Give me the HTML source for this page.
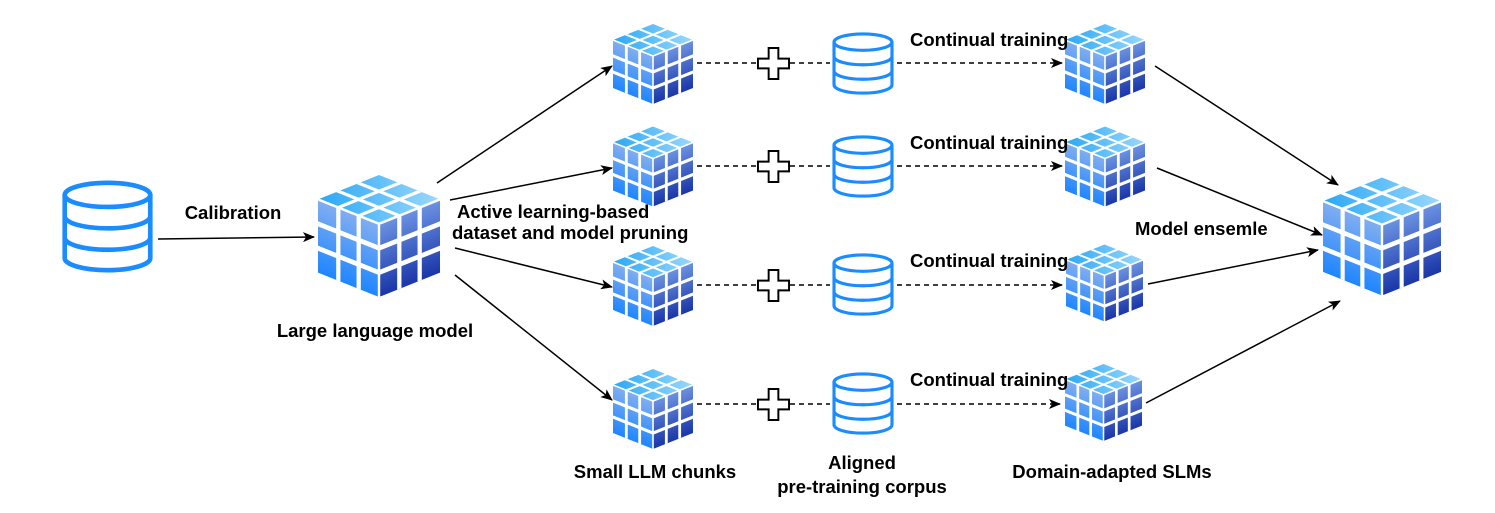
<!DOCTYPE html>
<html><head><meta charset="utf-8"><style>
html,body{margin:0;padding:0;background:#fff;}
svg{display:block;}
text{font-family:"Liberation Sans",Arial,sans-serif;font-weight:bold;font-size:18.5px;fill:#000;}
</style></head><body>
<svg width="1495" height="513" viewBox="0 0 1495 513" xmlns="http://www.w3.org/2000/svg">
<defs>
<linearGradient id="gl" x1="0" y1="0" x2="0" y2="1"><stop offset="0" stop-color="#82aef0"/><stop offset="1" stop-color="#1f86ff"/></linearGradient>
<linearGradient id="gr" x1="0" y1="0" x2="0" y2="1"><stop offset="0" stop-color="#6b92e2"/><stop offset="1" stop-color="#1a36a8"/></linearGradient>
<linearGradient id="gt" x1="0" y1="0" x2="1" y2="1"><stop offset="0" stop-color="#2aa8f6"/><stop offset="1" stop-color="#9ad8fc"/></linearGradient>
<g id="grid" fill="none" stroke="#fff" stroke-width="0.07">
  <line x1="0.333" y1="0" x2="0.333" y2="1"/><line x1="0.667" y1="0" x2="0.667" y2="1"/>
  <line x1="0" y1="0.333" x2="1" y2="0.333"/><line x1="0" y1="0.667" x2="1" y2="0.667"/>
</g>
<symbol id="cube" viewBox="0 0 100 100">
  <g transform="matrix(50,20,0,60,0,20)"><rect width="1" height="1" fill="url(#gl)"/><use href="#grid"/></g>
  <g transform="matrix(50,-20,0,60,50,40)"><rect width="1" height="1" fill="url(#gr)"/><use href="#grid"/></g>
  <g transform="matrix(50,-20,50,20,0,20)"><rect width="1" height="1" fill="url(#gt)"/><use href="#grid"/></g>
  <g fill="none" stroke="#fff" stroke-width="2">
    <path d="M0,20 L50,40 L100,20 M50,40 L50,100"/>
  </g>
</symbol>
<symbol id="db" viewBox="0 0 100 100">
  <g fill="#fff" stroke="#1a8cff" stroke-width="5">
    <path d="M4,16 L4,84 A46,13 0 0 0 96,84 L96,16"/>
    <ellipse cx="50" cy="16" rx="46" ry="13"/>
    <path d="M4,39 A46,13 0 0 0 96,39" fill="none"/>
    <path d="M4,62 A46,13 0 0 0 96,62" fill="none"/>
  </g>
</symbol>
<symbol id="plus" viewBox="0 0 34 34">
  <path d="M12,1 H22 V12 H33 V22 H22 V33 H12 V22 H1 V12 H12 Z" fill="#fff" stroke="#000" stroke-width="2"/>
</symbol>
<marker id="ah" markerWidth="12" markerHeight="10" refX="11" refY="5" orient="auto" markerUnits="userSpaceOnUse">
  <path d="M0,0 L12,5 L0,10 L3,5 Z" fill="#000"/>
</marker>
</defs>

<use href="#db" x="58" y="180" width="99" height="93" preserveAspectRatio="none"/>
<use href="#cube" x="318" y="175" width="122" height="122" preserveAspectRatio="none"/>
<line x1="158" y1="239" x2="314" y2="237" stroke="#000" stroke-width="1.5" marker-end="url(#ah)"/>
<text x="233" y="219" text-anchor="middle">Calibration</text>
<text x="375" y="337" text-anchor="middle">Large language model</text>

<g stroke="#000" stroke-width="1.5" marker-end="url(#ah)">
<line x1="437" y1="183" x2="612" y2="66"/>
<line x1="450" y1="200" x2="612" y2="168"/>
<line x1="455" y1="248" x2="612" y2="287"/>
<line x1="455" y1="275" x2="612" y2="400"/>
</g>
<text x="457" y="218">Active learning-based</text>
<text x="452" y="239">dataset and model pruning</text>

<g>
<use href="#cube" x="613" y="22" width="80" height="84" preserveAspectRatio="none"/>
<use href="#cube" x="613" y="125" width="80" height="83" preserveAspectRatio="none"/>
<use href="#cube" x="613" y="246" width="80" height="80" preserveAspectRatio="none"/>
<use href="#cube" x="613" y="368" width="80" height="82" preserveAspectRatio="none"/>

<use href="#cube" x="1065" y="22" width="80" height="84" preserveAspectRatio="none"/>
<use href="#cube" x="1065" y="125" width="80" height="83" preserveAspectRatio="none"/>
<use href="#cube" x="1066" y="242" width="77" height="82" preserveAspectRatio="none"/>
<use href="#cube" x="1065" y="362" width="77" height="81" preserveAspectRatio="none"/>
</g>

<g stroke="#000" stroke-width="1.5" stroke-dasharray="5,4">
<line x1="697" y1="63" x2="757" y2="63"/><line x1="790" y1="63" x2="830" y2="63"/><line x1="897" y1="63" x2="1062" y2="63" marker-end="url(#ah)"/>
<line x1="697" y1="166" x2="757" y2="166"/><line x1="790" y1="166" x2="830" y2="166"/><line x1="897" y1="166" x2="1062" y2="166" marker-end="url(#ah)"/>
<line x1="697" y1="285" x2="757" y2="285"/><line x1="790" y1="285" x2="830" y2="285"/><line x1="897" y1="285" x2="1062" y2="285" marker-end="url(#ah)"/>
<line x1="697" y1="404" x2="757" y2="404"/><line x1="790" y1="404" x2="830" y2="404"/><line x1="897" y1="404" x2="1060" y2="404" marker-end="url(#ah)"/>
</g>

<use href="#plus" x="757" y="47" width="33" height="33"/>
<use href="#plus" x="757" y="150" width="33" height="33"/>
<use href="#plus" x="757" y="269" width="33" height="33"/>
<use href="#plus" x="757" y="388" width="33" height="33"/>

<use href="#db" x="830" y="32" width="66" height="63" preserveAspectRatio="none"/>
<use href="#db" x="830" y="135" width="66" height="63" preserveAspectRatio="none"/>
<use href="#db" x="830" y="253" width="66" height="63" preserveAspectRatio="none"/>
<use href="#db" x="830" y="372" width="66" height="63" preserveAspectRatio="none"/>

<text x="910" y="46">Continual training</text>
<text x="910" y="149">Continual training</text>
<text x="910" y="267">Continual training</text>
<text x="910" y="386">Continual training</text>

<use href="#cube" x="1323" y="175" width="118" height="123" preserveAspectRatio="none"/>
<g stroke="#000" stroke-width="1.5" marker-end="url(#ah)">
<line x1="1155" y1="66" x2="1338" y2="185"/>
<line x1="1157" y1="168" x2="1322" y2="235"/>
<line x1="1148" y1="284" x2="1318" y2="250"/>
<line x1="1146" y1="403" x2="1340" y2="301"/>
</g>
<text x="1135" y="235">Model ensemle</text>

<text x="655" y="478" text-anchor="middle">Small LLM chunks</text>
<text x="862" y="469" text-anchor="middle">Aligned</text>
<text x="862" y="493" text-anchor="middle">pre-training corpus</text>
<text x="1112" y="478" text-anchor="middle">Domain-adapted SLMs</text>
</svg>
</body></html>
